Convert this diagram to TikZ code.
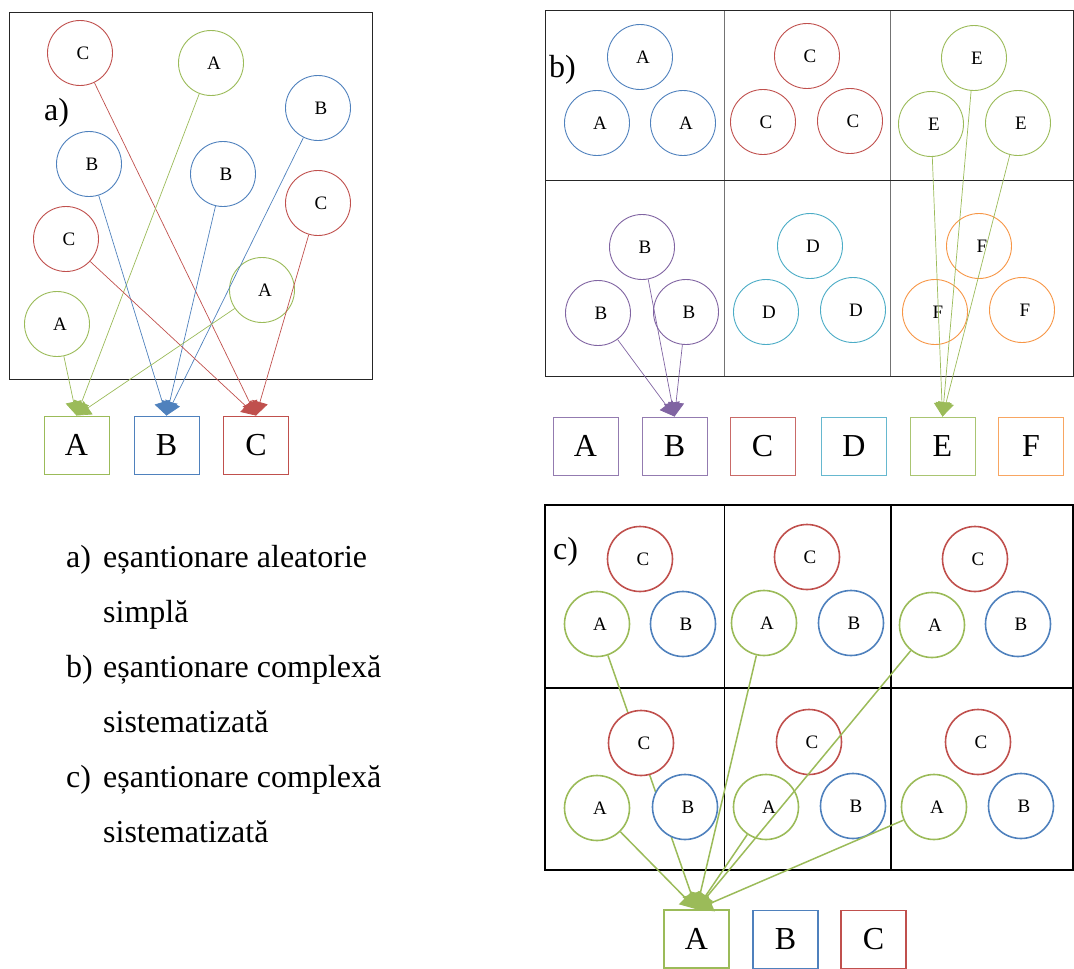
\documentclass[tikz,border=0pt]{standalone}
\usepackage{fontspec}
\setmainfont{Liberation Serif}
\usetikzlibrary{arrows.meta}

\definecolor{cgreen}{HTML}{9BBB59}
\definecolor{cblue}{HTML}{4F81BD}
\definecolor{cred}{HTML}{C0504D}
\definecolor{cpurple}{HTML}{8064A2}
\definecolor{caqua}{HTML}{4BACC6}
\definecolor{corange}{HTML}{F79646}

\tikzset{
  ball/.style={circle, draw, fill=white, minimum size=65pt, inner sep=0pt,
    line width=0.9pt, font=\fontsize{19}{19}\selectfont,
    execute at begin node=\hspace{6pt}},
  thickball/.style={ball, line width=1.6pt},
  catbox/.style={rectangle, draw, fill=white, minimum width=65pt, minimum height=58pt,
    inner sep=0pt, line width=0.9pt, font=\fontsize{32}{32}\selectfont},
  thickcat/.style={catbox, line width=1.5pt},
  bigtxt/.style={inner sep=0pt, anchor=base west, font=\fontsize{32}{32}\selectfont},
  link/.style={-{Triangle[length=14pt,width=16pt]}, line width=0.7pt},
  thicklink/.style={-{Triangle[length=16pt,width=18pt]}, line width=1.5pt},
  frameline/.style={line width=1pt, black!85},
  grayline/.style={line width=1pt, black!55},
  thickframe/.style={line width=1.5pt, black}
}

\begin{document}
\begin{tikzpicture}[x=1pt, y=-1pt]
\useasboundingbox (0,0) rectangle (1074,969);

% ---------------- a) simple random sampling ----------------
\draw[frameline] (9,12) rectangle (372,379);
\node[bigtxt] (lbla) at (44,120) {a)};

\node[ball, draw=cred]   (a1) at (80,53)   {C};
\node[ball, draw=cgreen] (a2) at (211,63)  {A};
\node[ball, draw=cblue]  (a3) at (318,108) {B};
\node[ball, draw=cblue]  (a4) at (89,164)  {B};
\node[ball, draw=cblue]  (a5) at (223,174) {B};
\node[ball, draw=cred]   (a6) at (318,203) {C};
\node[ball, draw=cred]   (a7) at (66,239)  {C};
\node[ball, draw=cgreen] (a8) at (262,290) {A};
\node[ball, draw=cgreen] (a9) at (57,324)  {A};

\node[catbox, draw=cgreen] (aA) at (76.5,445) {A};
\node[catbox, draw=cblue]  (aB) at (166.5,445) {B};
\node[catbox, draw=cred]   (aC) at (256,445) {C};

\draw[link, cred]   (a1) -- (aC.north);
\draw[link, cgreen] (a2) -- (aA.north);
\draw[link, cblue]  (a3) -- (aB.north);
\draw[link, cblue]  (a4) -- (aB.north);
\draw[link, cblue]  (a5) -- (aB.north);
\draw[link, cred]   (a6) -- (aC.north);
\draw[link, cred]   (a7) -- (aC.north);
\draw[link, cgreen] (a8) -- (aA.north);
\draw[link, cgreen] (a9) -- (aA.north);

% ---------------- b) stratified grid ----------------
\draw[grayline] (724,10) -- (724,376);
\draw[grayline] (890,10) -- (890,376);
\draw[frameline] (545,180) -- (1073,180);
\draw[frameline] (545,10) rectangle (1073,376);
\node[bigtxt] (lblb) at (549,77) {b)};

\node[ball, draw=cblue] (b1) at (640,57)  {A};
\node[ball, draw=cblue] (b2) at (597,123) {A};
\node[ball, draw=cblue] (b3) at (683,123) {A};
\node[ball, draw=cred]  (b4) at (807,56)  {C};
\node[ball, draw=cred]  (b5) at (763,122) {C};
\node[ball, draw=cred]  (b6) at (850,121) {C};
\node[ball, draw=cgreen] (b7) at (974,58)  {E};
\node[ball, draw=cgreen] (b8) at (931,124) {E};
\node[ball, draw=cgreen] (b9) at (1018,123) {E};

\node[ball, draw=cpurple] (b10) at (642,247) {B};
\node[ball, draw=cpurple] (b11) at (598,313) {B};
\node[ball, draw=cpurple] (b12) at (686,312) {B};
\node[ball, draw=caqua]   (b13) at (810,246) {D};
\node[ball, draw=caqua]   (b14) at (766,312) {D};
\node[ball, draw=caqua]   (b15) at (853,310) {D};
\node[ball, draw=corange] (b16) at (979,246) {F};
\node[ball, draw=corange] (b17) at (935,312) {F};
\node[ball, draw=corange] (b18) at (1022,310) {F};

\node[catbox, draw=cpurple!85] (bA) at (585.5,446) {A};
\node[catbox, draw=cpurple!85] (bB) at (674.5,446) {B};
\node[catbox, draw=cred!85]    (bC) at (762.5,446) {C};
\node[catbox, draw=caqua!85]   (bD) at (854,446)   {D};
\node[catbox, draw=cgreen!85]  (bE) at (942.5,446) {E};
\node[catbox, draw=corange!85] (bF) at (1031,446.5) {F};

\draw[link, cpurple] (b10) -- (bB.north);
\draw[link, cpurple] (b11) -- (bB.north);
\draw[link, cpurple] (b12) -- (bB.north);
\draw[link, cgreen]  (b7) -- (bE.north);
\draw[link, cgreen]  (b8) -- (bE.north);
\draw[link, cgreen]  (b9) -- (bE.north);

% ---------------- c) cluster grid ----------------
\draw[thickframe] (724.5,505) -- (724.5,870);
\draw[thickframe] (891,505) -- (891,870);
\draw[thickframe] (545,688) -- (1073,688);
\draw[thickframe] (545,505) rectangle (1073,870);
\node[bigtxt] (lblc) at (553,559) {c)};

\node[thickball, draw=cred]   (c1) at (640,559) {C};
\node[thickball, draw=cgreen] (c2) at (597,624) {A};
\node[thickball, draw=cblue]  (c3) at (683,624) {B};
\node[thickball, draw=cred]   (c4) at (807,557) {C};
\node[thickball, draw=cgreen] (c5) at (764,623) {A};
\node[thickball, draw=cblue]  (c6) at (851,623) {B};
\node[thickball, draw=cred]   (c7) at (975,559) {C};
\node[thickball, draw=cgreen] (c8) at (932,625) {A};
\node[thickball, draw=cblue]  (c9) at (1018,624) {B};

\node[thickball, draw=cgreen] (c11) at (597,808) {A};
\node[thickball, draw=cred]   (c13) at (809,742) {C};
\node[thickball, draw=cgreen] (c14) at (766,807) {A};
\node[thickball, draw=cblue]  (c15) at (853,806) {B};
\node[thickball, draw=cred]   (c16) at (978,742) {C};
\node[thickball, draw=cgreen] (c17) at (934,807) {A};
\node[thickball, draw=cblue]  (c18) at (1021,806) {B};

\node[thickcat, draw=cgreen] (cA) at (696.5,939) {A};
\node[thickcat, draw=cblue]  (cB) at (785.5,939.5) {B};
\node[thickcat, draw=cred]   (cC) at (873.5,939.5) {C};

\draw[thicklink, cgreen] (c2)  -- (cA.north);
\draw[thicklink, cgreen] (c5)  -- (cA.north);
\draw[thicklink, cgreen] (c8)  -- (cA.north);
\draw[thicklink, cgreen] (c11) -- (cA.north);
\draw[thicklink, cgreen] (c14) -- (cA.north);
\draw[thicklink, cgreen] (c17) -- (cA.north);

% these two sit in front of the links
\node[thickball, draw=cred]  (c10) at (641,743) {C};
\node[thickball, draw=cblue] (c12) at (685,807) {B};

% ---------------- legend ----------------
\node[bigtxt] (ta)  at (66,567)  {a)};
\node[bigtxt] (ta1) at (103,567) {eșantionare aleatorie};
\node[bigtxt] (ta2) at (103,622) {simplă};
\node[bigtxt] (tb)  at (66,677)  {b)};
\node[bigtxt] (tb1) at (103,677) {eșantionare complexă};
\node[bigtxt] (tb2) at (103,732) {sistematizată};
\node[bigtxt] (tc)  at (66,787)  {c)};
\node[bigtxt] (tc1) at (103,787) {eșantionare complexă};
\node[bigtxt] (tc2) at (103,842) {sistematizată};
\end{tikzpicture}
\end{document}
